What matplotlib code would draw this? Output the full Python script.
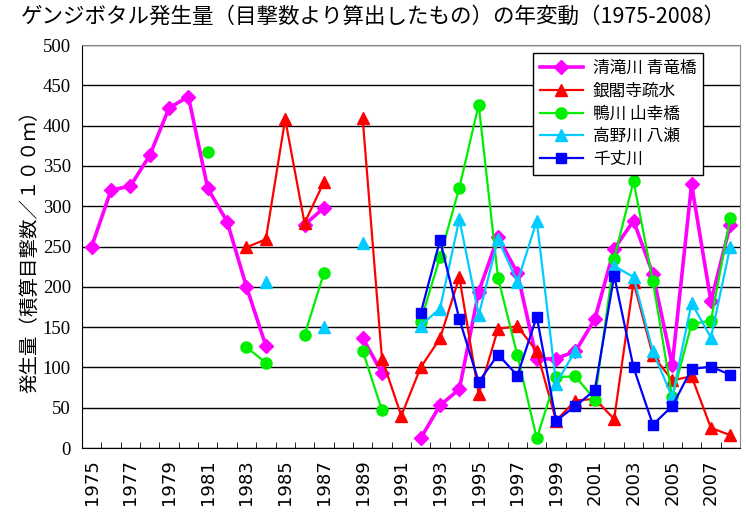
import matplotlib.pyplot as plt
import numpy as np

nan = np.nan
years = list(range(1975, 2009))

# 清滝川 青竜橋
kiyotaki = [250, 320, 325, 363, 422, 436, 322, 281, 200, 127,
            nan, 277, 298, nan, 137, 93, nan, 12, 53, 73,
            194, 262, 217, 110, 111, 120, 160, 247, 282, 216,
            103, 327, 182, 277]
# 銀閣寺疏水
ginkakuji = [nan, nan, nan, nan, nan, nan, nan, nan, 249, 259,
             408, 279, 330, nan, 410, 111, 40, 100, 136, 212,
             67, 148, 151, 120, 34, 59, 61, 36, 206, 115,
             84, 89, 25, 16]
# 鴨川 山幸橋
kamo = [nan, nan, nan, nan, nan, nan, 367, nan, 125, 106,
        nan, 140, 217, nan, 121, 47, nan, 157, 237, 323,
        426, 211, 115, 12, 88, 89, 60, 235, 331, 207,
        63, 154, 158, 286]
# 高野川 八瀬
takano = [nan, nan, nan, nan, nan, nan, nan, nan, nan, 206,
          nan, nan, 150, nan, 255, nan, nan, 152, 173, 284,
          165, 259, 206, 282, 80, 121, nan, 226, 212, 120,
          63, 180, 137, 250]
# 千丈川
senjo = [nan, nan, nan, nan, nan, nan, nan, nan, nan, nan,
         nan, nan, nan, nan, nan, nan, nan, 167, 258, 160,
         82, 116, 90, 163, 34, 52, 72, 214, 100, 29,
         52, 98, 101, 91]

series_names = ['清滝川 青竜橋', '銀閣寺疏水', '鴨川 山幸橋', '高野川 八瀬', '千丈川']
series_data = [kiyotaki, ginkakuji, kamo, takano, senjo]

jp = ['Noto Sans CJK JP', 'DejaVu Sans']

fig = plt.figure(figsize=(7.46, 5.21), dpi=100)
ax = fig.add_axes([0.1099, 0.140, 0.882, 0.7736])

x = np.arange(len(years))
styles = [
    dict(color='#FF00FF', marker='D', ms=7.5, lw=2.6),
    dict(color='#FF0000', marker='^', ms=9, lw=1.6),
    dict(color='#00EE00', marker='o', ms=8, lw=1.6),
    dict(color='#00CCFF', marker='^', ms=9, lw=1.6),
    dict(color='#0000FF', marker='s', ms=7.5, lw=1.6),
]
for name, vals, st in zip(series_names, series_data, styles):
    ax.plot(x, vals, label=name, color=st['color'], marker=st['marker'],
            markersize=st['ms'], linewidth=st['lw'],
            markerfacecolor=st['color'], markeredgecolor=st['color'])

ax.set_xlim(-0.5, len(years) - 0.5)
ax.set_ylim(0, 500)
ax.set_yticks(range(0, 501, 50))
ax.yaxis.grid(True, color='black', linewidth=1)
ax.set_axisbelow(True)
ax.tick_params(axis='y', length=0, pad=8)
for lab in ax.get_yticklabels():
    lab.set_fontfamily('Liberation Serif')
    lab.set_fontsize(13.5)

ax.set_xticks(x[::2])
ax.set_xticklabels([str(y) for y in years[::2]], rotation=90,
                   fontfamily='DejaVu Sans', fontsize=13)
ax.set_xticks(np.arange(-0.5, len(years)), minor=True)
ax.tick_params(axis='x', which='major', length=0, pad=8)
ax.tick_params(axis='x', which='minor', direction='in', length=4, color='black')

for side in ['top', 'right']:
    ax.spines[side].set_color('#888888')
for side in ['left', 'bottom']:
    ax.spines[side].set_color('black')

ax.set_ylabel('発生量（積算目撃数／１００ｍ）', family=jp, fontsize=14, labelpad=2)

fig.text(0.5, 0.967, 'ゲンジボタル発生量（目撃数より算出したもの）の年変動（1975-2008）',
         family=jp, fontsize=15.5, ha='center', va='center')

leg = ax.legend(loc='upper right', bbox_to_anchor=(0.944, 0.980), borderaxespad=0,
                prop={'family': jp, 'size': 12}, frameon=True, fancybox=False,
                edgecolor='black', framealpha=1, handlelength=2.6,
                handletextpad=0.6, labelspacing=0.35, borderpad=0.4)
leg.get_frame().set_linewidth(1)

fig.savefig('out.png', dpi=100)
